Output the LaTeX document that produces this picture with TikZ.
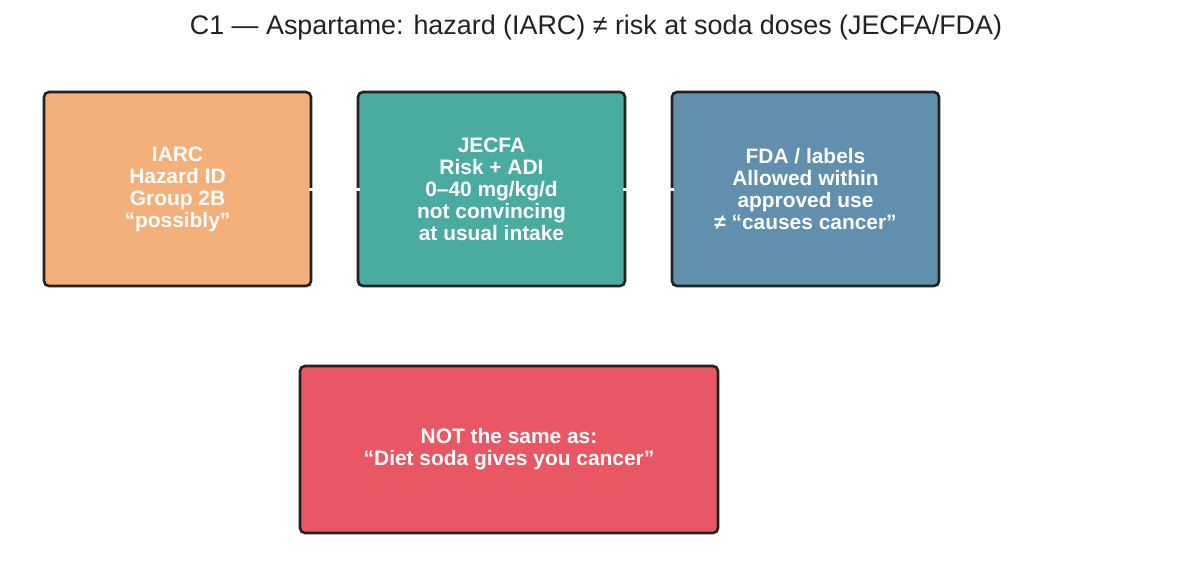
\documentclass[tikz,border=0pt]{standalone}
\usepackage{fontspec}
\setmainfont{Liberation Sans}
\usetikzlibrary{positioning}
\definecolor{iarcorange}{HTML}{F4B07A}
\definecolor{jecfateal}{HTML}{4AABA0}
\definecolor{fdablue}{HTML}{618FAE}
\definecolor{notred}{HTML}{E85763}
\definecolor{edgegray}{HTML}{222222}
\begin{document}
\begin{tikzpicture}[
        stage/.style={draw=edgegray, line width=1.5pt, rounded corners=0.1cm,
            minimum width=5.34cm, minimum height=3.88cm, align=center,
            text=white, font=\bfseries\fontsize{11.9}{12.5}\selectfont},
        link/.style={draw=white, line width=1.7pt, shorten <=-2pt, shorten >=-2pt}
    ]
                \useasboundingbox (0,0) rectangle (23.84,-11.62);
                \node [font=\fontsize{15.3}{18}\selectfont, text=edgegray] (title) at (11.92,-0.56)
                    { C1 — Aspartame: hazard (IARC) ≠ risk at soda doses (JECFA/FDA) };

                \node [stage, fill=iarcorange] (C1) at (3.55,-3.78)
                    { IARC\\Hazard ID\\Group 2B\\“possibly” };
                \node [stage, fill=jecfateal] (C2) at (9.83,-3.78)
                    { JECFA\\Risk + ADI\\0–40 mg/kg/d\\not convincing\\at usual intake };
                \node [stage, fill=fdablue] (C3) at (16.11,-3.78)
                    { FDA / labels\\Allowed within\\approved use\\≠ “causes cancer” };
                \node [stage, fill=notred, minimum width=8.36cm, minimum height=3.34cm] (C4) at (10.18,-8.99)
                    { NOT the same as:\\“Diet soda gives you cancer” };

                \draw [link] (C1) to (C2);
                \draw [link] (C2) to (C3);
            \end{tikzpicture}
\end{document}
